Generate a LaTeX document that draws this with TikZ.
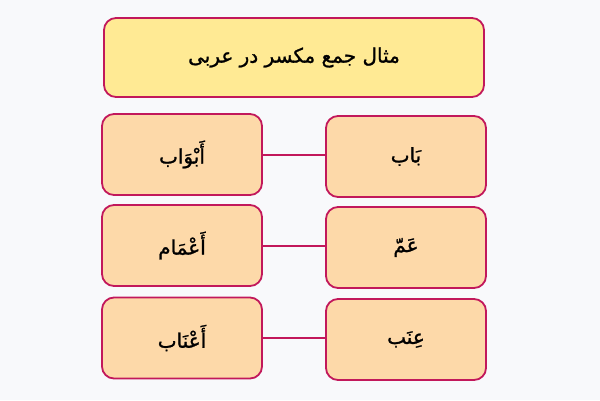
\documentclass[tikz,border=0pt]{standalone}
\usepackage{fontspec}
\newfontfamily\arabicfont[Script=Arabic,FakeBold=1.2]{DejaVu Sans}
\TeXXeTstate=1
\definecolor{bg}{HTML}{F8F9FB}
\definecolor{crim}{HTML}{C2185B}
\definecolor{ttl}{HTML}{FFEA94}
\definecolor{peach}{HTML}{FDD9A9}
\begin{document}
\begin{tikzpicture}[x=1pt,y=-1pt,
  box/.style={draw=crim,line width=1.8pt,rounded corners=12pt,fill=peach,minimum width=160pt,minimum height=81pt,inner sep=0pt,font=\arabicfont\fontsize{20}{24}\selectfont},
  titlebox/.style={box,fill=ttl,minimum width=380pt,minimum height=79pt},
  link/.style={draw=crim,line width=2pt}]
\fill[bg] (0,0) rectangle (600,400);
\node[titlebox] (t) at (294,57.5) {\beginR مثال جمع مکسر در عربی\endR};
\node[box] (l1) at (182,154.5) {\beginR أَبْوَاب\endR};
\node[box] (r1) at (406,156.5) {\beginR بَاب\endR};
\node[box] (l2) at (182,245.5) {\beginR أَعْمَام\endR};
\node[box] (r2) at (406,247.5) {\beginR عَمّ\endR};
\node[box] (l3) at (182,338) {\beginR أَعْنَاب\endR};
\node[box] (r3) at (406,339.5) {\beginR عِنَب\endR};
\draw[link] (l1.east) -- (l1.east -| r1.west);
\draw[link] (l2.east) -- (l2.east -| r2.west);
\draw[link] (l3.east) -- (l3.east -| r3.west);
\end{tikzpicture}
\end{document}
